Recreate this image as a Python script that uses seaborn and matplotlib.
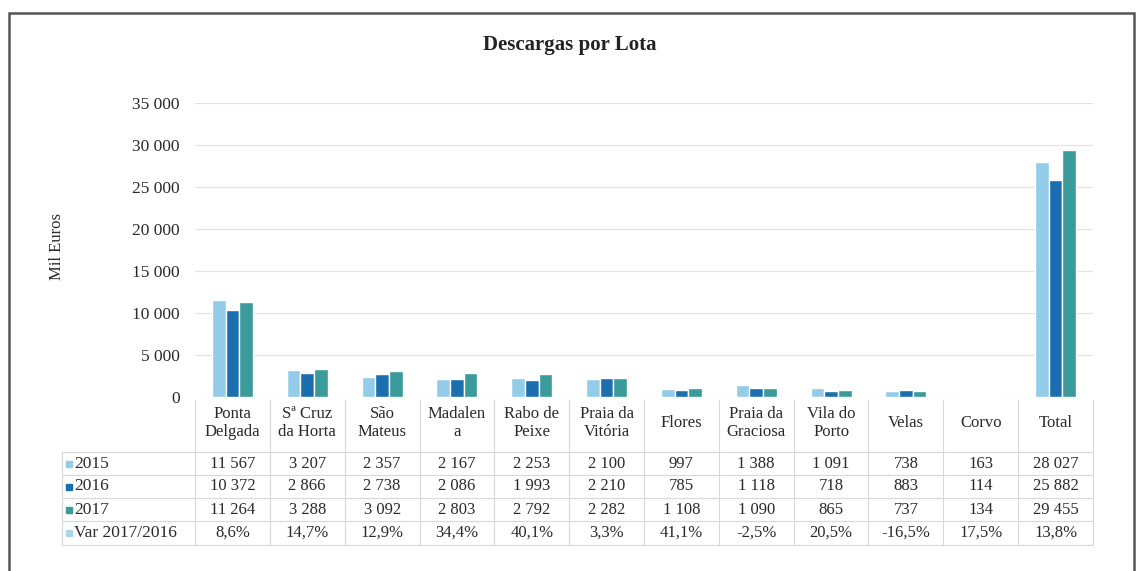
import matplotlib
matplotlib.use("Agg")
import matplotlib.pyplot as plt
import matplotlib.patches as mpatches
import matplotlib.transforms as mtransforms
from matplotlib.ticker import FuncFormatter
import pandas as pd
import seaborn as sns

lotas = ["Ponta\nDelgada", "Sª Cruz\nda Horta", "São\nMateus", "Madalen\na",
         "Rabo de\nPeixe", "Praia da\nVitória", "Flores", "Praia da\nGraciosa",
         "Vila do\nPorto", "Velas", "Corvo", "Total"]
v2015 = [11567, 3207, 2357, 2167, 2253, 2100, 997, 1388, 1091, 738, 163, 28027]
v2016 = [10372, 2866, 2738, 2086, 1993, 2210, 785, 1118, 718, 883, 114, 25882]
v2017 = [11264, 3288, 3092, 2803, 2792, 2282, 1108, 1090, 865, 737, 134, 29455]
var_1716 = ["8,6%", "14,7%", "12,9%", "34,4%", "40,1%", "3,3%", "41,1%", "-2,5%",
            "20,5%", "-16,5%", "17,5%", "13,8%"]
anos = ["2015", "2016", "2017"]
cores = ["#93cce9", "#1b6fae", "#3b9a9a"]
cor_var = "#a9d6ee"

sns.set_theme(style="white")
plt.rcParams["font.family"] = ["Liberation Serif", "DejaVu Serif"]

df = pd.DataFrame({
    "Lota": lotas * 3,
    "Ano": sum([[a] * len(lotas) for a in anos], []),
    "Valor": v2015 + v2016 + v2017,
})

fig = plt.figure(figsize=(11.38, 5.71), dpi=100)
W, H = 1138, 571
ax = fig.add_axes([195 / W, 1 - 397 / H, (1093 - 195) / W, (397 - 103) / H])

sns.barplot(data=df, x="Lota", y="Valor", hue="Ano", palette=cores,
            width=0.55, gap=0, saturation=1, ax=ax, legend=False)

txt_c = "#2a2a2a"
ax.set_ylim(0, 35000)
ax.set_xlim(-0.5, len(lotas) - 0.5)
ax.set_yticks(range(0, 35001, 5000))
ax.yaxis.set_major_formatter(FuncFormatter(lambda v, p: f"{int(v):,}".replace(",", " ")))
ax.tick_params(axis="y", labelsize=12.5, length=0, pad=11, labelcolor=txt_c)
ax.set_xticks([])
ax.set_xlabel("")
ax.set_ylabel("")
ax.grid(axis="y", color="#e3e3e3", linewidth=0.9)
ax.set_axisbelow(True)
for s in ax.spines.values():
    s.set_visible(False)

fig.text(57 / W, 1 - 246 / H, "Mil Euros", rotation=90, ha="center", va="center",
         fontsize=12, color=txt_c)
fig.text(570 / W, 1 - 45 / H, "Descargas por Lota", ha="center", va="center",
         fontsize=15, fontweight="bold", color="#222222")

# outer frame
fig.add_artist(mpatches.Rectangle((9 / W, -0.02), (1134 - 9) / W, 1 - 13 / H + 0.02,
                                  transform=fig.transFigure, fill=False,
                                  edgecolor="#555555", linewidth=1.8))

# data table below the axis
trans = mtransforms.blended_transform_factory(ax.transData, fig.transFigure)
line_c = "#d8d8d8"
top_y = 400
row_bounds = [452, 475, 498, 521, 545]
left_tab = 62 / W

for i in range(len(lotas) + 1):
    ax.plot([i - 0.5, i - 0.5], [1 - 545 / H, 1 - top_y / H], transform=trans,
            color=line_c, linewidth=0.8, clip_on=False)
for yb in row_bounds:
    fig.add_artist(plt.Line2D([left_tab, 1093 / W], [1 - yb / H, 1 - yb / H],
                              color=line_c, linewidth=0.8))
fig.add_artist(plt.Line2D([left_tab, left_tab], [1 - 545 / H, 1 - 452 / H],
                          color=line_c, linewidth=0.8))

for i, nome in enumerate(lotas):
    ax.text(i, 1 - 423 / H, nome, transform=trans, ha="center", va="center",
            fontsize=12, color=txt_c, linespacing=1.2)

rows = [("2015", cores[0], v2015), ("2016", cores[1], v2016),
        ("2017", cores[2], v2017), ("Var 2017/2016", cor_var, var_1716)]
for r, (lab, cor, vals) in enumerate(rows):
    yc = 1 - (row_bounds[r] + row_bounds[r + 1]) / 2 / H
    fig.add_artist(mpatches.Rectangle((66 / W, yc - 3 / H), 6 / W, 6 / H,
                                      transform=fig.transFigure, color=cor))
    fig.text(74 / W, yc, lab, ha="left", va="center", fontsize=12.5, color=txt_c)
    for i, v in enumerate(vals):
        txt = v if isinstance(v, str) else f"{v:,}".replace(",", " ")
        ax.text(i, yc, txt, transform=trans, ha="center", va="center",
                fontsize=12, color=txt_c)

fig.savefig("out.png", dpi=100, facecolor="white")
